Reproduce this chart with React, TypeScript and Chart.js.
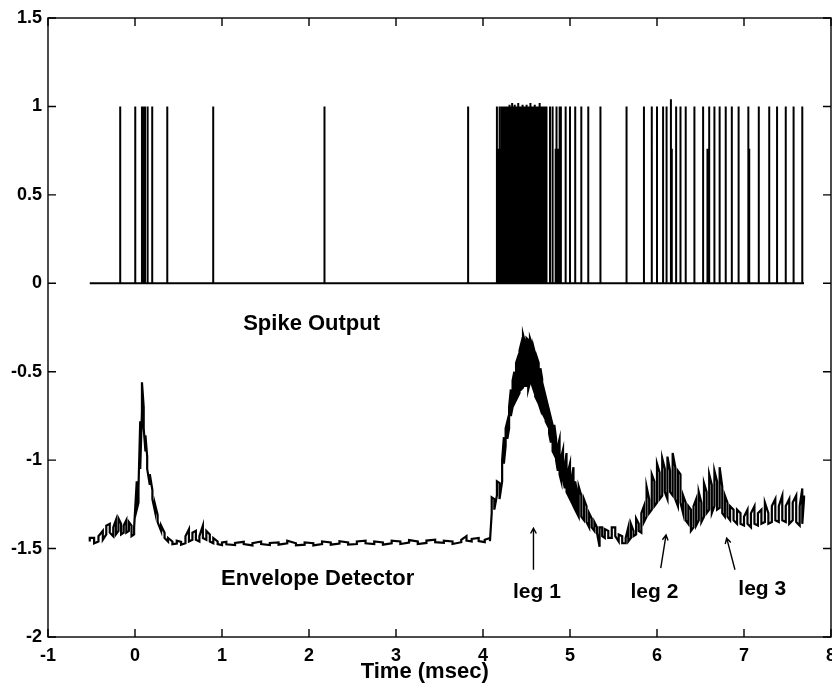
import React, { useEffect, useRef } from 'react';
import { Chart, registerables } from 'chart.js';
Chart.register(...registerables);

const FONT = "'Liberation Sans', Arial, Helvetica, sans-serif";

// Axis ticks
const xTicks = [-1, 0, 1, 2, 3, 4, 5, 6, 7, 8];
const yTicks = [-2, -1.5, -1, -0.5, 0, 0.5, 1, 1.5];

// Spike output: record span
const spikeStart = -0.52;
const spikeEnd = 7.69;
// isolated spikes (time, height)
const spikeTimes = [
  -0.17, 0.003, 0.08, 0.09, 0.10, 0.115, 0.145, 0.198, 0.371, 0.899, 2.178, 3.829,
  4.16, 4.175, 4.185, 4.195, 4.205, 4.215, 4.225, 4.235, 4.245, 4.255,
  4.71, 4.73, 4.77, 4.80, 4.835, 4.845, 4.855, 4.865, 4.875, 4.885, 4.895, 4.95, 5.00, 5.06, 5.13, 5.21, 5.35,
  5.65, 5.85, 5.94, 6.00, 6.07, 6.11, 6.16, 6.17, 6.22, 6.27, 6.33, 6.43, 6.53, 6.58, 6.60, 6.66, 6.72,
  6.79, 6.86, 6.935, 6.94, 7.05, 7.06, 7.17, 7.29, 7.38, 7.48, 7.57, 7.67,
];
const spikeHeights = [
  1, 1, 1, 1, 1, 1, 1, 1, 1, 1, 1, 1,
  1, 0.76, 1, 0.76, 0.76, 1, 0.87, 1, 0.87, 1,
  1, 1, 1, 1, 0.76, 1, 0.76, 0.76, 1, 0.76, 1, 1, 1, 1, 1, 1, 1,
  1, 1, 1, 1, 1, 1, 1.04, 0.76, 1, 1, 1, 1, 1, 0.76, 1, 1, 1,
  1, 1, 0.76, 1, 1, 0.76, 1, 1, 1, 1, 1, 1,
];
// dense burst of spikes (all reaching ~1)
const burstTimes = [
  4.265, 4.275, 4.285, 4.295, 4.305, 4.315, 4.325, 4.335, 4.345, 4.355, 4.365, 4.375,
  4.385, 4.395, 4.405, 4.415, 4.425, 4.435, 4.445, 4.455, 4.465, 4.475, 4.485, 4.495,
  4.505, 4.515, 4.525, 4.535, 4.545, 4.555, 4.565, 4.575, 4.585, 4.595, 4.605, 4.615,
  4.625, 4.635, 4.645, 4.655, 4.665, 4.675, 4.685, 4.695,
];
const burstHeights = [
  1, 1, 1, 1, 1.01, 1, 1, 1.02, 1, 1, 1.01, 1,
  1, 1, 1.02, 1, 1, 1, 1, 1.01, 1, 1, 1, 1,
  1.01, 1, 1, 1, 1.02, 1, 1, 1, 1, 1.01, 1, 1,
  1, 1, 1, 1.02, 1, 1, 1, 1,
];

// Envelope detector: sample times with upper / lower value of the noisy trace
const envTimes = [
  -0.52, -0.47, -0.42, -0.37, -0.33, -0.29, -0.25, -0.22, -0.19, -0.16, -0.13, -0.10, -0.07, -0.04, -0.01,
  0.02, 0.04, 0.06, 0.08, 0.10, 0.12, 0.14, 0.17, 0.20, 0.23, 0.26, 0.30, 0.34, 0.38, 0.43, 0.48, 0.53,
  0.58, 0.62, 0.66, 0.70, 0.74, 0.78, 0.82, 0.86, 0.90, 0.95, 1.00,
  1.05, 1.15, 1.25, 1.35, 1.45, 1.55, 1.65, 1.75, 1.85, 1.95, 2.05, 2.15, 2.25, 2.35, 2.45, 2.55, 2.65,
  2.75, 2.85, 2.95, 3.05, 3.15, 3.25, 3.35, 3.45, 3.55, 3.65, 3.75, 3.81, 3.87, 3.95, 4.02, 4.08,
  4.10, 4.13, 4.16, 4.19, 4.22, 4.24, 4.26, 4.28, 4.30, 4.32, 4.34, 4.36, 4.38, 4.40, 4.42, 4.44, 4.46,
  4.48, 4.50, 4.52, 4.54, 4.56, 4.58, 4.60, 4.62, 4.64, 4.66, 4.68, 4.70, 4.72, 4.74, 4.76, 4.78, 4.80,
  4.82, 4.84, 4.86, 4.88, 4.90, 4.92, 4.94, 4.96, 4.98, 5.00, 5.02, 5.04, 5.06, 5.08, 5.10, 5.13, 5.16,
  5.19, 5.22, 5.25, 5.28, 5.31, 5.34, 5.37, 5.40, 5.44, 5.48, 5.52, 5.56, 5.60, 5.64, 5.67, 5.70, 5.73,
  5.76, 5.79, 5.82, 5.85, 5.88, 5.91, 5.94, 5.97, 6.00, 6.03, 6.06, 6.09, 6.12, 6.15, 6.18, 6.21, 6.24,
  6.27, 6.30, 6.33, 6.36, 6.39, 6.42, 6.45, 6.48, 6.51, 6.54, 6.57, 6.60, 6.63, 6.66, 6.69, 6.72, 6.75,
  6.78, 6.81, 6.84, 6.88, 6.92, 6.96, 7.00, 7.04, 7.08, 7.12, 7.16, 7.20, 7.24, 7.28, 7.32, 7.36, 7.40,
  7.44, 7.48, 7.52, 7.56, 7.60, 7.64, 7.67, 7.69,
];
const envHigh = [
  -1.44, -1.44, -1.43, -1.40, -1.37, -1.36, -1.38, -1.34, -1.33, -1.36, -1.37, -1.34, -1.35, -1.37, -1.38,
  -1.12, -1.16, -0.78, -0.56, -0.70, -0.86, -0.98, -1.08, -1.17, -1.25, -1.31, -1.37, -1.41, -1.44, -1.46, -1.455, -1.462,
  -1.43, -1.39, -1.41, -1.40, -1.43, -1.37, -1.40, -1.42, -1.44, -1.46, -1.465,
  -1.462, -1.468, -1.462, -1.47, -1.46, -1.468, -1.465, -1.455, -1.47, -1.465, -1.47, -1.46, -1.465, -1.458, -1.465, -1.46, -1.455,
  -1.46, -1.465, -1.455, -1.46, -1.452, -1.46, -1.455, -1.45, -1.455, -1.46, -1.45, -1.43, -1.445, -1.44, -1.45, -1.44,
  -1.21, -1.22, -1.12, -1.13, -1.00, -0.87, -0.82, -0.78, -0.70, -0.60, -0.55, -0.50, -0.45, -0.42, -0.38, -0.34, -0.29,
  -0.33, -0.31, -0.32, -0.31, -0.34, -0.36, -0.40, -0.42, -0.45, -0.48, -0.54, -0.60, -0.64, -0.68, -0.72, -0.76, -0.80,
  -0.80, -0.88, -0.92, -0.88, -0.98, -0.94, -1.03, -0.96, -1.06, -1.02, -1.10, -1.04, -1.12, -1.18, -1.15, -1.20, -1.22,
  -1.26, -1.30, -1.33, -1.35, -1.38, -1.38, -1.38, -1.39, -1.40, -1.38, -1.38, -1.42, -1.43, -1.44, -1.38, -1.36, -1.40,
  -1.33, -1.36, -1.30, -1.26, -1.15, -1.22, -1.08, -1.12, -1.02, -1.07, -0.99, -1.05, -0.98, -1.06, -0.96, -1.04, -1.06,
  -1.08, -1.20, -1.24, -1.26, -1.28, -1.26, -1.22, -1.18, -1.24, -1.13, -1.18, -1.08, -1.14, -1.06, -1.12, -1.04, -1.15,
  -1.20, -1.24, -1.26, -1.28, -1.28, -1.30, -1.32, -1.28, -1.30, -1.26, -1.30, -1.28, -1.24, -1.30, -1.26, -1.22, -1.26,
  -1.20, -1.26, -1.22, -1.24, -1.20, -1.26, -1.16, -1.20,
];
const envLow = [
  -1.46, -1.47, -1.46, -1.45, -1.42, -1.41, -1.43, -1.42, -1.40, -1.42, -1.41, -1.41, -1.40, -1.43, -1.42,
  -1.28, -1.24, -1.05, -0.72, -0.82, -0.95, -1.05, -1.14, -1.22, -1.29, -1.35, -1.40, -1.44, -1.46, -1.475, -1.472, -1.478,
  -1.47, -1.46, -1.45, -1.45, -1.46, -1.44, -1.45, -1.46, -1.47, -1.475, -1.48,
  -1.476, -1.48, -1.475, -1.482, -1.474, -1.48, -1.478, -1.47, -1.482, -1.478, -1.482, -1.474, -1.478, -1.472, -1.478, -1.474, -1.47,
  -1.474, -1.478, -1.47, -1.474, -1.466, -1.474, -1.468, -1.464, -1.468, -1.474, -1.464, -1.455, -1.46, -1.458, -1.464, -1.458,
  -1.30, -1.28, -1.20, -1.22, -1.12, -1.02, -0.92, -0.88, -0.82, -0.75, -0.70, -0.68, -0.66, -0.64, -0.62, -0.60, -0.59,
  -0.58, -0.58, -0.60, -0.56, -0.57, -0.60, -0.64, -0.66, -0.68, -0.71, -0.73, -0.75, -0.78, -0.80, -0.85, -0.90, -0.95,
  -0.97, -1.00, -1.06, -1.08, -1.12, -1.10, -1.16, -1.18, -1.20, -1.22, -1.24, -1.26, -1.28, -1.30, -1.32, -1.32, -1.34,
  -1.35, -1.38, -1.38, -1.40, -1.41, -1.49, -1.43, -1.44, -1.44, -1.44, -1.43, -1.46, -1.47, -1.47, -1.46, -1.44, -1.43,
  -1.42, -1.40, -1.41, -1.35, -1.32, -1.30, -1.28, -1.26, -1.24, -1.22, -1.20, -1.18, -1.22, -1.18, -1.20, -1.22, -1.26,
  -1.24, -1.30, -1.34, -1.36, -1.40, -1.38, -1.37, -1.34, -1.35, -1.32, -1.30, -1.28, -1.30, -1.26, -1.28, -1.27, -1.30,
  -1.32, -1.32, -1.34, -1.34, -1.36, -1.36, -1.37, -1.36, -1.38, -1.36, -1.37, -1.36, -1.35, -1.36, -1.35, -1.34, -1.35,
  -1.34, -1.35, -1.36, -1.34, -1.35, -1.37, -1.36, -1.22,
];

// Annotations (data coordinates)
const labelTexts = ['Spike Output', 'Envelope Detector', 'leg 1', 'leg 2', 'leg 3', 'Time (msec)'];
const labelX = [2.03, 2.10, 4.62, 5.97, 7.21, 3.33];
const labelY = [-0.228, -1.671, -1.748, -1.748, -1.728, -2.2];
const labelSize = [22, 22, 21, 21, 21, 22];
// arrows: tail -> tip
const arrowTail = [[4.58, -1.62], [6.043, -1.611], [6.896, -1.62]];
const arrowTip = [[4.58, -1.385], [6.104, -1.423], [6.801, -1.441]];

function buildSpikeSeries() {
  const all: { t: number; h: number }[] = [];
  spikeTimes.forEach((t, i) => all.push({ t, h: spikeHeights[i] }));
  burstTimes.forEach((t, i) => all.push({ t, h: burstHeights[i] }));
  all.sort((a, b) => a.t - b.t);
  const pts: { x: number; y: number }[] = [{ x: spikeStart, y: 0 }];
  for (const s of all) {
    pts.push({ x: s.t, y: 0 }, { x: s.t, y: s.h }, { x: s.t, y: 0 });
  }
  pts.push({ x: spikeEnd, y: 0 });
  return pts;
}

function buildEnvelopeSeries() {
  const pts: { x: number; y: number }[] = [];
  envTimes.forEach((t, i) => {
    if (i % 2 === 0) pts.push({ x: t, y: envLow[i] }, { x: t, y: envHigh[i] });
    else pts.push({ x: t, y: envHigh[i] }, { x: t, y: envLow[i] });
  });
  return pts;
}

const framePlugin = {
  id: 'matlabFrame',
  afterDatasetsDraw(chart: any) {
    const { ctx, chartArea: a, scales } = chart;
    const xs = scales.x;
    const ys = scales.y;
    ctx.save();
    ctx.strokeStyle = '#000';
    ctx.lineWidth = 1.4;
    ctx.strokeRect(a.left, a.top, a.right - a.left, a.bottom - a.top);
    const L = 8;
    ctx.beginPath();
    for (const v of xTicks) {
      const px = xs.getPixelForValue(v);
      ctx.moveTo(px, a.bottom);
      ctx.lineTo(px, a.bottom - L);
      ctx.moveTo(px, a.top);
      ctx.lineTo(px, a.top + L);
    }
    for (const v of yTicks) {
      const py = ys.getPixelForValue(v);
      ctx.moveTo(a.left, py);
      ctx.lineTo(a.left + L, py);
      ctx.moveTo(a.right, py);
      ctx.lineTo(a.right - L, py);
    }
    ctx.stroke();

    // arrows
    ctx.lineWidth = 1.4;
    for (let i = 0; i < arrowTail.length; i++) {
      const x0 = xs.getPixelForValue(arrowTail[i][0]);
      const y0 = ys.getPixelForValue(arrowTail[i][1]);
      const x1 = xs.getPixelForValue(arrowTip[i][0]);
      const y1 = ys.getPixelForValue(arrowTip[i][1]);
      const ang = Math.atan2(y1 - y0, x1 - x0);
      const hl = 6;
      const hw = 0.5;
      ctx.beginPath();
      ctx.moveTo(x0, y0);
      ctx.lineTo(x1, y1);
      ctx.moveTo(x1 - hl * Math.cos(ang - hw), y1 - hl * Math.sin(ang - hw));
      ctx.lineTo(x1, y1);
      ctx.lineTo(x1 - hl * Math.cos(ang + hw), y1 - hl * Math.sin(ang + hw));
      ctx.stroke();
    }

    // texts
    ctx.fillStyle = '#000';
    ctx.textAlign = 'center';
    ctx.textBaseline = 'middle';
    labelTexts.forEach((txt, i) => {
      ctx.font = `bold ${labelSize[i]}px ${FONT}`;
      ctx.fillText(txt, xs.getPixelForValue(labelX[i]), ys.getPixelForValue(labelY[i]));
    });
    ctx.restore();
  },
};

export default function App() {
  const ref = useRef<HTMLCanvasElement | null>(null);
  useEffect(() => {
    if (!ref.current) return;
    const tickFont = { family: FONT, size: 18, weight: 'bold' as const };
    const chart = new Chart(ref.current, {
      type: 'line',
      data: {
        datasets: [
          {
            label: 'Spike Output',
            data: buildSpikeSeries(),
            borderColor: '#000',
            borderWidth: 2,
            pointRadius: 0,
            tension: 0,
          },
          {
            label: 'Envelope Detector',
            data: buildEnvelopeSeries(),
            borderColor: '#000',
            borderWidth: 2.2,
            pointRadius: 0,
            tension: 0,
          },
        ],
      },
      options: {
        animation: false,
        responsive: false,
        devicePixelRatio: 1,
        events: [],
        layout: { autoPadding: false, padding: { top: 18, right: 14, left: 0, bottom: 0 } },
        plugins: { legend: { display: false }, tooltip: { enabled: false }, title: { display: false } },
        scales: {
          x: {
            type: 'linear',
            min: -1,
            max: 8,
            afterBuildTicks: (s: any) => { s.ticks = xTicks.map((v) => ({ value: v })); },
            afterFit: (s: any) => { s.height = 50; },
            grid: { display: false, drawTicks: false },
            border: { display: false },
            ticks: { font: tickFont, color: '#000', padding: 8, maxRotation: 0, autoSkip: false, callback: (v: any) => String(v) },
          },
          y: {
            type: 'linear',
            min: -2,
            max: 1.5,
            afterBuildTicks: (s: any) => { s.ticks = yTicks.map((v) => ({ value: v })); },
            afterFit: (s: any) => { s.width = 48; },
            grid: { display: false, drawTicks: false },
            border: { display: false },
            ticks: { font: tickFont, color: '#000', padding: 6, autoSkip: false, callback: (v: any) => String(v) },
          },
        },
      },
      plugins: [framePlugin],
    });
    return () => chart.destroy();
  }, []);
  return (
    <div style={{ position: 'absolute', left: 0, top: 0, width: 832, height: 687, overflow: 'hidden', background: '#fff' }}>
      <canvas ref={ref} width={845} height={687} style={{ display: 'block', width: 845, height: 687 }} />
    </div>
  );
}
